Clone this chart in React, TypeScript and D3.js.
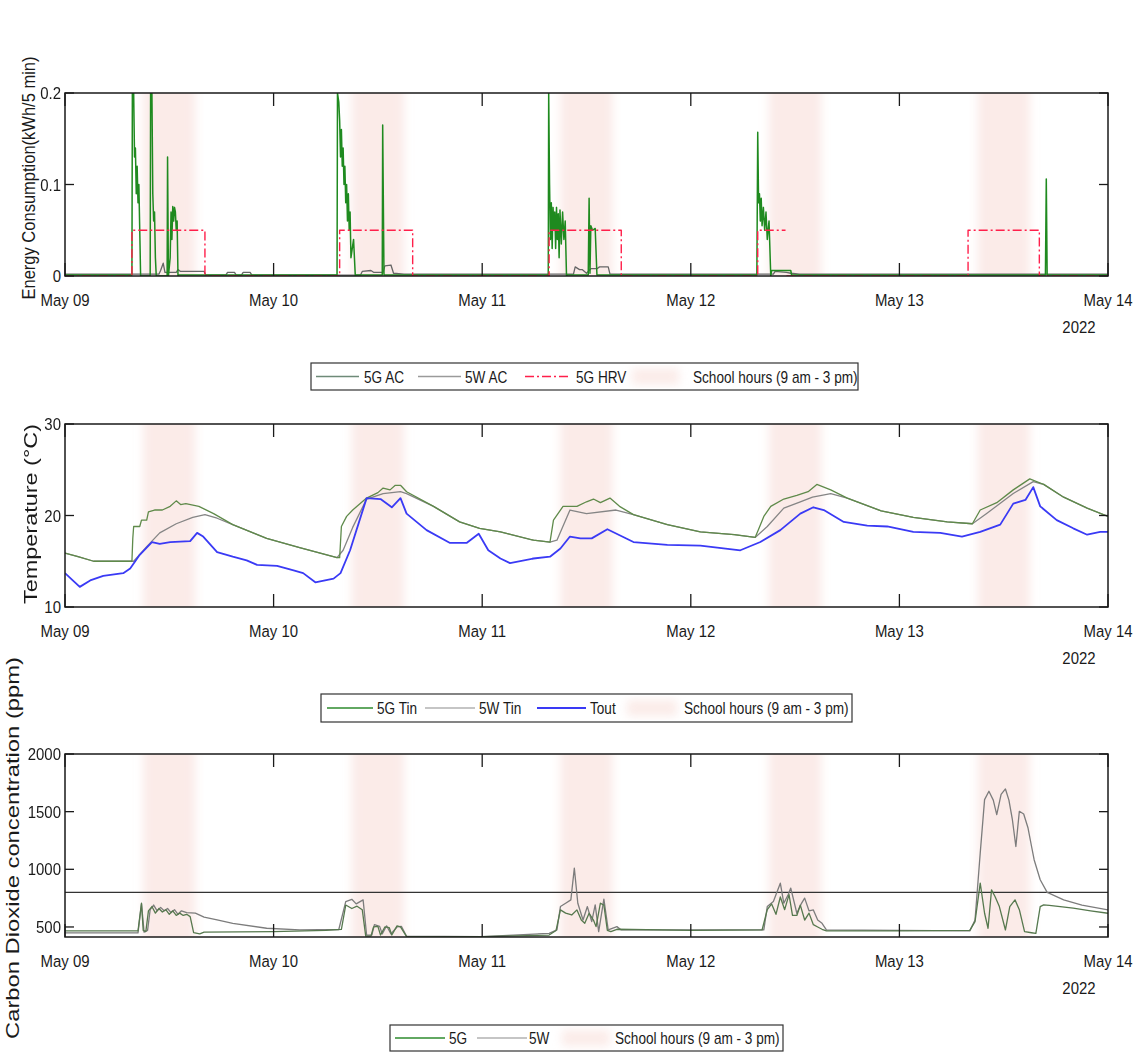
import React from "react";
import * as d3 from "d3";

// ---- data (hours since 2022-05-09 00:00) ----
const DAY_LABELS = ["May 09", "May 10", "May 11", "May 12", "May 13", "May 14"];
const YEAR_LABEL = "2022";
const SCHOOL_DAYS = [0, 1, 2, 3, 4];
const SCHOOL_HOURS = [9, 15];

const ENERGY_TICKS = [0, 0.1, 0.2];
const TEMP_TICKS = [10, 20, 30];
const CO2_TICKS = [500, 1000, 1500, 2000];
const CO2_LIMIT = 800;

type Pt = [number, number | null];

const ac5G: Pt[] = [
  [0, 0.001], [7.7, 0.001], [7.75, 0.2], [7.9, 0.2], [8.0, 0.13], [8.1, 0.14], [8.2, 0.09], [8.3, 0.12],
  [8.4, 0.08], [8.5, 0.1], [8.6, 0.05], [8.7, 0.0], [9.8, 0.0], [9.85, 0.2], [10.0, 0.2], [10.1, 0.09],
  [10.2, 0.06], [10.3, 0.07], [10.4, 0.02], [10.5, 0.0], [11.75, 0.0], [11.8, 0.13], [11.9, 0.0],
  [12.1, 0.02], [12.2, 0.07], [12.3, 0.04], [12.4, 0.076], [12.5, 0.06], [12.6, 0.075], [12.7, 0.07],
  [12.8, 0.05], [12.9, 0.06], [13.0, 0.0], [13.1, 0.001], [31.3, 0.001], [31.35, 0.2], [31.5, 0.19],
  [31.6, 0.17], [31.7, 0.13], [31.8, 0.16], [31.9, 0.12], [32.0, 0.14], [32.1, 0.1], [32.2, 0.12],
  [32.3, 0.08], [32.4, 0.1], [32.5, 0.06], [32.6, 0.09], [32.7, 0.05], [32.8, 0.07], [32.9, 0.02],
  [33.2, 0.04], [33.4, 0.0], [33.5, 0.001], [36.5, 0.001], [36.55, 0.165], [36.7, 0.001],
  [55.6, 0.001], [55.65, 0.2], [55.75, 0.1], [55.85, 0.04], [55.95, 0.08], [56.05, 0.03], [56.15, 0.075],
  [56.25, 0.05], [56.35, 0.07], [56.45, 0.03], [56.55, 0.075], [56.65, 0.04], [56.75, 0.068], [56.85, 0.02],
  [56.95, 0.072], [57.1, 0.035], [57.25, 0.07], [57.4, 0.04], [57.55, 0.06], [57.7, 0.0], [57.8, 0.001],
  [60.2, 0.001], [60.3, 0.085], [60.4, 0.003], [60.5, 0.055], [60.7, 0.05], [61.0, 0.052], [61.2, 0.001],
  [79.6, 0.001], [79.7, 0.157], [79.8, 0.08], [79.9, 0.09], [80.0, 0.06], [80.1, 0.085], [80.2, 0.055],
  [80.35, 0.075], [80.5, 0.05], [80.65, 0.07], [80.8, 0.04], [81.0, 0.06], [81.2, 0.0], [81.3, 0.006],
  [83.5, 0.006], [83.6, 0.001], [112.8, 0.001], [112.9, 0.106], [113.0, 0.001], [120, 0.001],
];

const ac5W: Pt[] = [
  [0, 0.002], [10.8, 0.002], [11.0, 0.006], [11.3, 0.014], [11.5, 0.004], [12.8, 0.004], [13.0, 0.007],
  [13.3, 0.005], [16.0, 0.005], [16.2, 0.001], [18.5, 0.001], [18.7, 0.004], [19.5, 0.004], [19.7, 0.001],
  [20.3, 0.001], [20.5, 0.004], [21.3, 0.004], [21.5, 0.001], [34.0, 0.001], [34.2, 0.005], [35.2, 0.006],
  [35.5, 0.004], [36.6, 0.004], [36.8, 0.011], [37.5, 0.012], [37.8, 0.003], [39.0, 0.002], [58.5, 0.002],
  [58.7, 0.01], [59.2, 0.007], [59.5, 0.007], [60.0, 0.003], [60.5, 0.008], [61.2, 0.008], [61.5, 0.01],
  [62.5, 0.01], [62.7, 0.002], [81.5, 0.002], [81.7, 0.005], [83.0, 0.004], [83.5, 0.003], [84.5, 0.002],
  [120, 0.002],
];

const hrv5G: Pt[] = [
  [0, 0], [7.7, 0], [7.7, 0.05], [16.1, 0.05], [16.1, 0], [31.6, 0], [31.6, 0.05], [40.0, 0.05], [40.0, 0],
  [55.7, 0], [55.7, 0.05], [64.0, 0.05], [64.0, 0], [79.7, 0], [79.7, 0.05], [82.9, 0.05], [82.95, null],
  [83.0, 0], [103.9, 0], [103.9, 0.05], [112.1, 0.05], [112.1, 0], [120, 0],
];

const tin5G: Pt[] = [
  [0, 15.9], [1.5, 15.5], [3.3, 15.0], [7.7, 15.0], [7.8, 17.5], [7.9, 18.8], [8.6, 18.8], [8.8, 19.5],
  [9.4, 19.5], [9.6, 20.4], [10.3, 20.6], [11.2, 20.6], [12.1, 21.0], [12.8, 21.6], [13.3, 21.2],
  [13.9, 21.3], [15.4, 21.0], [17.1, 20.2], [19.3, 19.0], [23.2, 17.5], [27.0, 16.5], [31.3, 15.4],
  [31.6, 15.4], [31.8, 18.8], [32.4, 19.9], [33.1, 20.6], [34.7, 21.9], [36.0, 22.5], [36.6, 23.0],
  [37.4, 22.8], [38.0, 23.3], [38.6, 23.3], [39.3, 22.6], [42.4, 21.0], [45.4, 19.3], [47.7, 18.6],
  [50.1, 18.2], [53.9, 17.3], [55.8, 17.1], [56.2, 19.5], [57.3, 21.0], [58.9, 21.0], [60.0, 21.5],
  [60.8, 21.8], [61.6, 21.4], [62.7, 21.9], [63.8, 21.0], [65.4, 20.1], [69.3, 19.0], [73.1, 18.2],
  [77.0, 17.9], [79.4, 17.6], [79.8, 18.5], [80.4, 19.9], [81.2, 21.0], [82.7, 21.8], [84.2, 22.2],
  [85.5, 22.6], [86.5, 23.4], [88.1, 22.8], [90.0, 21.9], [93.9, 20.5], [97.6, 19.8], [101.5, 19.3],
  [104.4, 19.1], [105.3, 20.6], [107.2, 21.4], [109.1, 22.8], [111.0, 24.0], [112.6, 23.4], [114.9, 22.0],
  [117.6, 20.8], [120, 19.9],
];

const tin5W: Pt[] = [
  [0, 15.9], [1.5, 15.5], [3.3, 15.0], [7.9, 15.0], [9.4, 16.6], [10.9, 18.1], [12.8, 19.1], [14.7, 19.8],
  [16.1, 20.1], [17.5, 19.7], [19.3, 19.0], [23.2, 17.5], [27.0, 16.5], [31.3, 15.4], [32.0, 16.2],
  [33.1, 18.7], [34.7, 21.8], [36.6, 22.4], [38.6, 22.6], [39.3, 22.4], [42.4, 21.0], [45.4, 19.3],
  [47.7, 18.6], [50.1, 18.2], [53.9, 17.3], [55.8, 17.1], [56.6, 17.3], [58.1, 20.6], [60.0, 20.2],
  [63.4, 20.6], [65.4, 20.1], [69.3, 19.0], [73.1, 18.2], [77.0, 17.9], [79.4, 17.6], [80.8, 18.8],
  [82.7, 20.8], [84.6, 21.5], [86.0, 22.0], [88.1, 22.4], [90.0, 21.9], [93.9, 20.5], [97.6, 19.8],
  [101.5, 19.3], [104.4, 19.1], [106.0, 20.2], [109.1, 22.4], [111.4, 23.7], [112.6, 23.4], [114.9, 22.0],
  [117.6, 20.8], [120, 19.9],
];

const tout: Pt[] = [
  [0, 13.7], [0.8, 13.0], [1.7, 12.2], [2.9, 12.9], [4.4, 13.4], [6.7, 13.7], [7.5, 14.2], [8.6, 15.7],
  [10.0, 17.1], [10.9, 16.9], [12.1, 17.1], [14.4, 17.2], [15.2, 18.1], [15.9, 17.7], [17.5, 16.0],
  [19.3, 15.5], [20.9, 15.1], [22.1, 14.6], [24.4, 14.5], [26.3, 14.0], [27.4, 13.7], [28.8, 12.7],
  [30.9, 13.1], [31.7, 13.7], [32.8, 16.2], [34.7, 21.9], [36.3, 21.8], [37.6, 20.9], [38.6, 21.9],
  [39.3, 20.2], [41.6, 18.4], [44.3, 17.0], [46.2, 17.0], [47.6, 18.0], [48.7, 16.2], [50.1, 15.3],
  [51.2, 14.8], [53.9, 15.3], [55.8, 15.5], [57.0, 16.4], [58.1, 17.7], [59.3, 17.5], [60.6, 17.5],
  [62.4, 18.5], [65.4, 17.1], [69.3, 16.8], [73.1, 16.7], [77.7, 16.2], [80.0, 17.1], [82.3, 18.4],
  [84.6, 20.2], [86.1, 20.9], [87.3, 20.6], [89.6, 19.3], [92.3, 18.9], [94.6, 18.8], [97.6, 18.2],
  [100.7, 18.1], [103.2, 17.7], [105.3, 18.2], [107.6, 19.0], [109.1, 21.3], [110.5, 21.7], [111.4, 23.1],
  [112.2, 21.0], [114.1, 19.5], [116.0, 18.6], [117.6, 17.9], [119.1, 18.2], [120, 18.2],
];

const co2_5G: Pt[] = [
  [0, 466], [8.4, 466], [8.8, 706], [9.0, 470], [9.3, 460], [9.6, 640], [10.0, 677], [10.4, 620], [10.8, 660],
  [11.2, 630], [11.6, 650], [12.0, 610], [12.4, 640], [12.8, 600], [13.2, 620], [13.6, 600], [14.0, 610],
  [14.4, 590], [14.8, 450], [15.5, 440], [16.0, 455], [24, 460], [30, 470], [31.8, 480], [32.3, 690],
  [33.0, 660], [33.6, 680], [34.2, 650], [34.6, 420], [35.2, 420], [35.5, 500], [36.0, 505], [36.3, 430],
  [36.8, 500], [37.3, 495], [37.6, 430], [38.2, 510], [38.6, 500], [39.3, 416], [48, 416], [55.7, 430],
  [56.5, 470], [57.0, 648], [57.6, 620], [58.3, 604], [58.9, 648], [59.4, 560], [59.8, 532], [60.3, 619],
  [60.8, 560], [61.1, 503], [61.6, 706], [62.0, 690], [62.4, 470], [62.8, 459], [63.5, 480], [72, 470],
  [80.2, 474], [80.8, 650], [81.3, 700], [81.8, 610], [82.3, 760], [82.8, 650], [83.3, 780], [83.7, 600],
  [84.2, 600], [84.6, 690], [85.1, 560], [85.6, 620], [86.1, 520], [86.6, 500], [87.1, 480], [87.6, 466],
  [96, 466], [104.1, 470], [104.7, 546], [105.3, 880], [105.8, 619], [106.2, 489], [106.6, 822],
  [107.0, 764], [107.5, 677], [108.2, 474], [108.7, 677], [109.3, 735], [109.8, 650], [110.4, 459],
  [111.2, 450], [111.7, 445], [112.2, 677], [112.6, 692], [114, 680], [116, 663], [118, 640], [120, 619],
];

const co2_5W: Pt[] = [
  [0, 449], [8.4, 449], [8.8, 700], [9.1, 455], [9.5, 470], [9.8, 650], [10.2, 690], [10.6, 640], [11.0, 670],
  [11.4, 640], [11.8, 660], [12.2, 625], [12.6, 650], [13.0, 610], [13.4, 640], [14.0, 625], [15.0, 620],
  [16.0, 585], [17.5, 561], [19.3, 532], [23.2, 489], [27, 474], [31.5, 478], [32.3, 720], [33.0, 740],
  [33.5, 700], [34.3, 735], [34.7, 430], [35.3, 430], [35.6, 520], [36.2, 505], [36.5, 440], [37.0, 510],
  [37.5, 440], [38.2, 500], [38.7, 505], [39.3, 420], [48, 416], [55.7, 445], [56.6, 474], [57.0, 677],
  [57.6, 706], [58.2, 735], [58.6, 1010], [59.0, 706], [59.6, 561], [60.1, 677], [60.6, 546], [61.0, 692],
  [61.4, 459], [62.0, 741], [62.5, 474], [63.5, 503], [64.0, 474], [72, 474], [80.4, 474], [80.8, 677],
  [81.5, 720], [82.3, 880], [82.7, 706], [83.2, 780], [83.5, 837], [84.2, 619], [84.7, 700], [85.1, 750],
  [85.6, 640], [86.1, 648], [86.6, 560], [87.1, 532], [87.6, 474], [96, 470], [104.1, 466], [104.7, 561],
  [105.3, 1141], [105.8, 1604], [106.3, 1677], [106.8, 1600], [107.2, 1474], [107.7, 1650], [108.2, 1697],
  [108.6, 1600], [109.0, 1430], [109.4, 1198], [109.8, 1503], [110.3, 1480], [110.8, 1358], [111.2, 1200],
  [111.5, 1083], [112.2, 909], [113.0, 800], [114.9, 735], [117, 690], [120, 648],
];

// ---- layout ----
const W = 1144;
const H = 1057;
const X0 = 65;
const X1 = 1108;
const FONT = "'Liberation Sans', Arial, sans-serif";
const BAND_FILL = "#f7d8d2";
const BAND_OPACITY = 0.5;

const BASE = new Date(2022, 4, 9).getTime();
const toDate = (h: number) => new Date(BASE + h * 3600000);
const x = d3.scaleTime().domain([toDate(0), toDate(120)]).range([X0, X1]);

function Narrow({ x: tx, y: ty, anchor = "start", size = 16, sx = 0.87, children }: any) {
  return (
    <text
      transform={`translate(${tx},${ty}) scale(${sx},1)`}
      textAnchor={anchor}
      fontSize={size}
      fontFamily={FONT}
      fill="#1a1a1a"
    >
      {children}
    </text>
  );
}

type Series = { data: Pt[]; color: string; width: number; dash?: string };

function Panel({
  id, top, bottom, domain, ticks, tickFmt, series, yLabel, yLabelX, yLabelLen, yLabelSize, refLine,
}: any) {
  const y = d3.scaleLinear().domain(domain).range([bottom, top]);
  const line = d3
    .line<Pt>()
    .defined((d) => d[1] != null)
    .x((d) => x(toDate(d[0])))
    .y((d) => y(d[1] as number));
  const dayTicks = DAY_LABELS.map((_, i) => x(toDate(i * 24)));
  const cy = (top + bottom) / 2;
  return (
    <g>
      <defs>
        <clipPath id={`clip-${id}`}>
          <rect x={X0} y={top} width={X1 - X0} height={bottom - top} />
        </clipPath>
      </defs>
      <g clipPath={`url(#clip-${id})`}>
        <g filter="url(#soft)">
          {SCHOOL_DAYS.map((d) => (
            <rect
              key={d}
              x={x(toDate(d * 24 + SCHOOL_HOURS[0]))}
              y={top - 10}
              width={x(toDate(d * 24 + SCHOOL_HOURS[1])) - x(toDate(d * 24 + SCHOOL_HOURS[0]))}
              height={bottom - top + 20}
              fill={BAND_FILL}
              opacity={BAND_OPACITY}
            />
          ))}
        </g>
        {refLine != null && (
          <line x1={X0} x2={X1} y1={y(refLine)} y2={y(refLine)} stroke="#333" strokeWidth={1.1} />
        )}
        {series.map((s: Series, i: number) => (
          <path
            key={i}
            d={line(s.data) || ""}
            fill="none"
            stroke={s.color}
            strokeWidth={s.width}
            strokeDasharray={s.dash}
            strokeLinejoin="round"
          />
        ))}
      </g>
      <rect x={X0} y={top} width={X1 - X0} height={bottom - top} fill="none" stroke="#1a1a1a" strokeWidth={1.5} />
      {dayTicks.map((tx, i) => (
        <g key={i}>
          <line x1={tx} x2={tx} y1={top} y2={top + 13} stroke="#1a1a1a" strokeWidth={1.3} />
          <line x1={tx} x2={tx} y1={bottom} y2={bottom - 13} stroke="#1a1a1a" strokeWidth={1.3} />
          <Narrow x={tx} y={bottom + 30} anchor="middle" size={17} sx={0.88}>
            {DAY_LABELS[i]}
          </Narrow>
        </g>
      ))}
      <Narrow x={X1 - 29} y={bottom + 57} anchor="middle" size={17} sx={0.88}>
        {YEAR_LABEL}
      </Narrow>
      {ticks.map((t: number) => (
        <g key={t}>
          <line x1={X0} x2={X0 + 9} y1={y(t)} y2={y(t)} stroke="#1a1a1a" strokeWidth={1.3} />
          <line x1={X1} x2={X1 - 9} y1={y(t)} y2={y(t)} stroke="#1a1a1a" strokeWidth={1.3} />
          <Narrow x={X0 - 4} y={y(t) + 6} anchor="end" size={17} sx={0.88}>
            {tickFmt(t)}
          </Narrow>
        </g>
      ))}
      <text
        transform={`translate(${yLabelX},${yLabel.cy ?? cy}) rotate(-90)`}
        textAnchor="middle"
        fontSize={yLabelSize}
        fontFamily={FONT}
        fill="#1a1a1a"
        textLength={yLabelLen}
        lengthAdjust="spacingAndGlyphs"
      >
        {yLabel.text}
      </text>
    </g>
  );
}

type LegendItem = { kind: "line" | "band"; label: string; color?: string; width?: number; dash?: string; x1: number; x2: number; tx: number };

function Legend({ x0, x1, y0, y1, items }: { x0: number; x1: number; y0: number; y1: number; items: LegendItem[] }) {
  const my = (y0 + y1) / 2;
  return (
    <g>
      <rect x={x0} y={y0} width={x1 - x0} height={y1 - y0} fill="#fff" stroke="#333" strokeWidth={1.2} />
      {items.map((it, i) => (
        <g key={i}>
          {it.kind === "line" ? (
            <line x1={it.x1} x2={it.x2} y1={my} y2={my} stroke={it.color} strokeWidth={it.width} strokeDasharray={it.dash} />
          ) : (
            <rect x={it.x1} y={my - 8} width={it.x2 - it.x1} height={16} fill={BAND_FILL} opacity={BAND_OPACITY} filter="url(#soft)" />
          )}
          <Narrow x={it.tx} y={my + 6} size={16} sx={0.85}>
            {it.label}
          </Narrow>
        </g>
      ))}
    </g>
  );
}

const C_5G_AC = "#1f8a1f";
const C_5W_AC = "#666666";
const C_HRV = "#ff1f4a";
const C_5G_T = "#5f8a4a";
const C_5W_T = "#858585";
const C_OUT = "#3a3af5";
const C_5G_CO2 = "#56784e";
const C_5W_CO2 = "#7c7c7c";
const HRV_DASH = "9,3,2,3";

export default function App() {
  return (
    <svg
      width={W}
      height={H}
      viewBox={`0 0 ${W} ${H}`}
      style={{ position: "absolute", left: 0, top: 0, background: "#fff" }}
    >
      <defs>
        <filter id="soft" x="-30%" y="-20%" width="160%" height="140%">
          <feGaussianBlur stdDeviation="5" />
        </filter>
      </defs>
      <rect x={0} y={0} width={W} height={H} fill="#fff" />

      <Panel
        id="energy"
        top={93}
        bottom={276}
        domain={[0, 0.2]}
        ticks={ENERGY_TICKS}
        tickFmt={(t: number) => (t === 0 ? "0" : String(t))}
        series={[
          { data: ac5W, color: C_5W_AC, width: 1.3 },
          { data: ac5G, color: C_5G_AC, width: 1.5 },
          { data: hrv5G, color: C_HRV, width: 1.4, dash: HRV_DASH },
        ]}
        yLabel={{ text: "Energy Consumption(kWh/5 min)", cy: 178 }}
        yLabelX={35}
        yLabelLen={243}
        yLabelSize={18.5}
      />
      <Legend
        x0={311}
        x1={858}
        y0={363}
        y1={390}
        items={[
          { kind: "line", label: "5G AC", color: "#6e8a78", width: 1.5, x1: 316, x2: 359, tx: 364 },
          { kind: "line", label: "5W AC", color: "#9a9a9a", width: 1.3, x1: 418, x2: 461, tx: 465 },
          { kind: "line", label: "5G HRV", color: C_HRV, width: 1.4, dash: HRV_DASH, x1: 525, x2: 571, tx: 576 },
          { kind: "band", label: "School hours (9 am - 3 pm)", x1: 632, x2: 679, tx: 693 },
        ]}
      />

      <Panel
        id="temp"
        top={424}
        bottom={607}
        domain={[10, 30]}
        ticks={TEMP_TICKS}
        tickFmt={(t: number) => String(t)}
        series={[
          { data: tin5W, color: C_5W_T, width: 1.3 },
          { data: tin5G, color: C_5G_T, width: 1.3 },
          { data: tout, color: C_OUT, width: 1.8 },
        ]}
        yLabel={{ text: "Temperature (°C)", cy: 514 }}
        yLabelX={37}
        yLabelLen={180}
        yLabelSize={17.5}
      />
      <Legend
        x0={321}
        x1={852}
        y0={694}
        y1={722}
        items={[
          { kind: "line", label: "5G Tin", color: "#2e8b2e", width: 1.4, x1: 327, x2: 373, tx: 377 },
          { kind: "line", label: "5W Tin", color: "#8c8c8c", width: 1.2, x1: 425, x2: 475, tx: 479 },
          { kind: "line", label: "Tout", color: C_OUT, width: 1.8, x1: 537, x2: 586, tx: 590 },
          { kind: "band", label: "School hours (9 am - 3 pm)", x1: 627, x2: 677, tx: 684 },
        ]}
      />

      <Panel
        id="co2"
        top={754}
        bottom={937}
        domain={[413, 2000]}
        ticks={CO2_TICKS}
        tickFmt={(t: number) => String(t)}
        series={[
          { data: co2_5W, color: C_5W_CO2, width: 1.3 },
          { data: co2_5G, color: C_5G_CO2, width: 1.3 },
        ]}
        refLine={CO2_LIMIT}
        yLabel={{ text: "Carbon Dioxide concentration (ppm)", cy: 848 }}
        yLabelX={19}
        yLabelLen={382}
        yLabelSize={19}
      />
      <Legend
        x0={390}
        x1={783}
        y0={1025}
        y1={1051}
        items={[
          { kind: "line", label: "5G", color: "#2e8b2e", width: 1.4, x1: 395, x2: 445, tx: 449 },
          { kind: "line", label: "5W", color: "#8c8c8c", width: 1.2, x1: 477, x2: 527, tx: 529 },
          { kind: "band", label: "School hours (9 am - 3 pm)", x1: 562, x2: 610, tx: 615 },
        ]}
      />
    </svg>
  );
}
